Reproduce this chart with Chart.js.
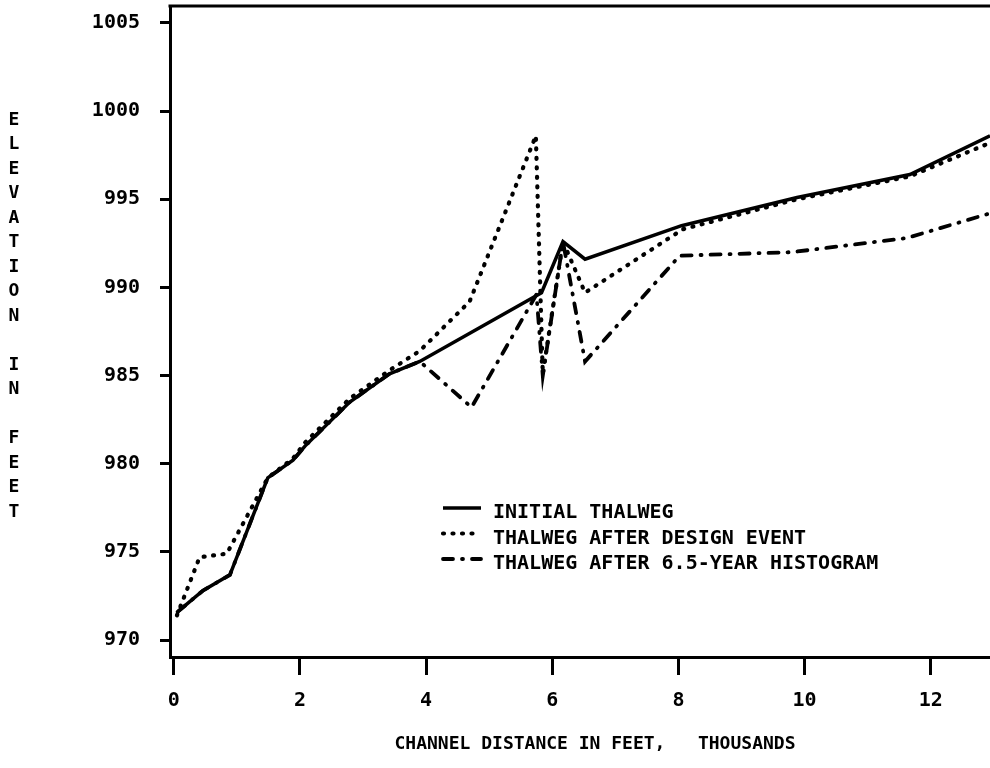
<!DOCTYPE html>
<html>
<head>
<meta charset="utf-8">
<script src="https://cdn.jsdelivr.net/npm/chart.js@4.4.1/dist/chart.umd.min.js"></script>
<style>
  body { margin: 0; background: #fff; }
  #wrap { width: 990px; height: 768px; }
</style>
</head>
<body>
<div id="wrap"><canvas id="thalweg-chart" width="990" height="768"></canvas></div>
<script>
// Axis ticks
const xTicks = [0, 2, 4, 6, 8, 10, 12];
const yTicks = [970, 975, 980, 985, 990, 995, 1000, 1005];

// Titles and legend labels
const xTitle = 'CHANNEL DISTANCE IN FEET,   THOUSANDS';
const yTitle = 'ELEVATION IN FEET';
const seriesLabels = [
  'INITIAL THALWEG',
  'THALWEG AFTER DESIGN EVENT',
  'THALWEG AFTER 6.5-YEAR HISTOGRAM'
];

// Initial thalweg (distance in thousands of feet, elevation in feet)
const initialX = [0.06, 0.46, 0.89, 1.49, 1.89, 2.08, 2.79, 3.42, 3.9, 5.83, 6.17, 6.52, 8.05, 9.88, 11.67, 12.94];
const initialY = [971.6, 972.8, 973.7, 979.2, 980.2, 981.0, 983.5, 985.1, 985.8, 989.7, 992.6, 991.6, 993.5, 995.1, 996.4, 998.6];

// Thalweg after design event
const designX = [0.05, 0.41, 0.84, 1.49, 1.89, 2.08, 2.79, 3.42, 3.9, 4.69, 5.74, 5.85, 6.17, 6.52, 8.07, 9.88, 11.67, 12.94];
const designY = [971.4, 974.7, 974.9, 979.2, 980.3, 981.2, 983.7, 985.3, 986.4, 989.2, 998.6, 985.1, 992.6, 989.7, 993.3, 995.0, 996.3, 998.2];

// Thalweg after 6.5-year histogram
const histX = [0.06, 0.46, 0.89, 1.49, 1.89, 2.08, 2.79, 3.42, 3.9, 4.72, 5.75, 5.85, 6.17, 6.52, 8.02, 9.8, 11.62, 12.94];
const histY = [971.6, 972.8, 973.7, 979.2, 980.2, 981.0, 983.5, 985.1, 985.8, 983.2, 989.6, 985.0, 992.6, 985.8, 991.8, 992.0, 992.8, 994.2];

const toPoints = (xs, ys) => xs.map((x, i) => ({ x: x, y: ys[i] }));

const monoFont = '"DejaVu Sans Mono", "Liberation Mono", monospace';

// Draws the top border, the stacked y title, the x title and the legend
const decorPlugin = {
  id: 'decor',
  afterDraw(chart) {
    const { ctx, chartArea } = chart;
    ctx.save();
    ctx.strokeStyle = '#000';
    ctx.fillStyle = '#000';

    // top frame line
    ctx.lineWidth = 3;
    ctx.setLineDash([]);
    ctx.beginPath();
    ctx.moveTo(chartArea.left - 1.5, chartArea.top);
    ctx.lineTo(chartArea.right, chartArea.top);
    ctx.stroke();

    // y title, one upright letter per row
    ctx.font = 'bold 18px ' + monoFont;
    ctx.textAlign = 'center';
    ctx.textBaseline = 'middle';
    yTitle.split('').forEach((ch, i) => {
      ctx.fillText(ch, 14, 120 + i * 24.5);
    });

    // x title
    ctx.fillText(xTitle, 595, 744);

    // legend
    ctx.font = 'bold 20px ' + monoFont;
    ctx.textAlign = 'left';
    chart.data.datasets.forEach((ds, i) => {
      const y = 513 + i * 25.5;
      ctx.lineWidth = ds.borderWidth;
      ctx.lineCap = ds.borderCapStyle || 'butt';
      ctx.setLineDash(ds.borderDash || []);
      ctx.beginPath();
      ctx.moveTo(443, y - 5);
      ctx.lineTo(481, y - 5);
      ctx.stroke();
      ctx.setLineDash([]);
      ctx.fillText(ds.label, 493, y);
    });
    ctx.restore();
  }
};

const ctx = document.getElementById('thalweg-chart').getContext('2d');

const thalwegChart = new Chart(ctx, {
  type: 'line',
  data: {
    datasets: [
      {
        label: seriesLabels[0],
        data: toPoints(initialX, initialY),
        borderColor: '#000',
        borderWidth: 3.5,
        pointRadius: 0,
        tension: 0
      },
      {
        label: seriesLabels[1],
        data: toPoints(designX, designY),
        borderColor: '#000',
        borderWidth: 4.2,
        borderDash: [1, 8.5],
        borderCapStyle: 'round',
        pointRadius: 0,
        tension: 0
      },
      {
        label: seriesLabels[2],
        data: toPoints(histX, histY),
        borderColor: '#000',
        borderWidth: 3.8,
        borderDash: [10, 9, 1, 9],
        borderCapStyle: 'round',
        pointRadius: 0,
        tension: 0
      }
    ]
  },
  options: {
    responsive: false,
    devicePixelRatio: 1,
    animation: false,
    layout: { padding: { top: 6, left: 0, right: 0, bottom: 0 } },
    plugins: {
      legend: { display: false },
      tooltip: { enabled: false }
    },
    scales: {
      x: {
        type: 'linear',
        min: -0.06,
        max: 12.94,
        afterBuildTicks: scale => { scale.ticks = xTicks.map(v => ({ value: v })); },
        afterFit: scale => {
          scale.height = 111;
          scale.paddingLeft = 0;
          scale.paddingRight = 0;
        },
        border: { display: true, color: '#000', width: 3 },
        grid: {
          drawOnChartArea: false,
          drawTicks: true,
          tickLength: 18,
          tickWidth: 3,
          tickColor: '#000'
        },
        ticks: {
          color: '#000',
          padding: 14,
          maxRotation: 0,
          callback: value => String(value),
          font: { family: monoFont, size: 20, weight: 'bold' }
        }
      },
      y: {
        type: 'linear',
        min: 969.04,
        max: 1005.96,
        afterBuildTicks: scale => { scale.ticks = yTicks.map(v => ({ value: v })); },
        afterFit: scale => {
          scale.width = 170;
          scale.paddingTop = 0;
          scale.paddingBottom = 0;
        },
        border: { display: true, color: '#000', width: 3 },
        grid: {
          drawOnChartArea: false,
          drawTicks: true,
          tickLength: 10,
          tickWidth: 3,
          tickColor: '#000'
        },
        ticks: {
          color: '#000',
          padding: 20,
          callback: value => String(value),
          font: { family: monoFont, size: 20, weight: 'bold' }
        }
      }
    }
  },
  plugins: [decorPlugin]
});
</script>
</body>
</html>
